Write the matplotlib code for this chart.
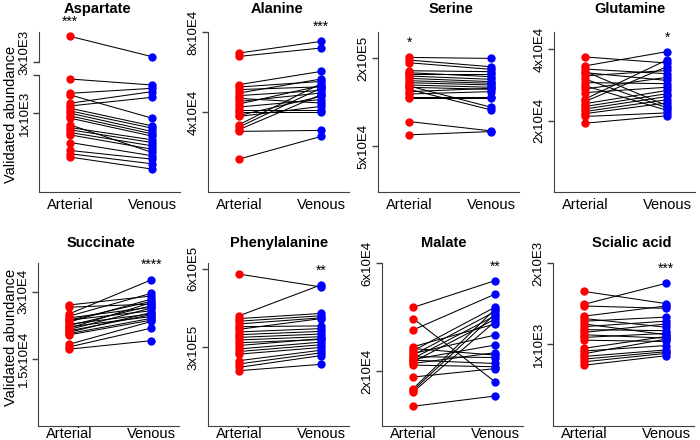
import matplotlib.pyplot as plt
from matplotlib.transforms import ScaledTranslation

plt.rcParams['font.family'] = ['Liberation Sans', 'DejaVu Sans']

groups = ['Arterial', 'Venous']
titles = ['Aspartate', 'Alanine', 'Serine', 'Glutamine',
          'Succinate', 'Phenylalanine', 'Malate', 'Scialic acid']
stars = ['***', '***', '*', '*', '****', '**', '**', '***']
star_side = [0, 1, 0, 1, 1, 1, 1, 1]

# paired values, same index = same subject
aspartate_art = [3329, 1434, 1253, 1232, 1127, 1092, 1063, 1029, 1000, 966,
                 937, 852, 818, 789, 755, 725, 628, 527, 485, 443]
aspartate_ven = [3071, 1358, 1316, 937, 1274, 1202, 839, 810, 768, 738,
                 709, 502, 662, 628, 586, 543, 460, 417, 358, 291]

alanine_art = [69500, 67800, 53700, 52500, 51200, 49500, 48200, 46800, 45300, 44000,
               42500, 41200, 39800, 38300, 37800, 33700, 32500, 31200, 30300, 16500]
alanine_ven = [75300, 72000, 60300, 55300, 52600, 56500, 50800, 44500, 49500, 53200,
               46200, 41200, 39800, 47800, 42800, 54200, 52000, 48700, 30800, 27800]

serine_art = [201700, 197200, 192600, 179000, 175600, 173400, 170000, 166000, 162000, 158600,
              154700, 153000, 150800, 147300, 143400, 139400, 134900, 132000, 92400, 69800]
serine_ven = [200000, 185800, 181300, 177400, 168900, 173400, 164400, 160400, 157600, 154700,
              150800, 116800, 147300, 112200, 149000, 143400, 134900, 132000, 76500, 75400]

glutamine_art = [37900, 35400, 34500, 33800, 33500, 32600, 31700, 30700, 29800, 28900,
                 27900, 26100, 25400, 24800, 24000, 23300, 22600, 22000, 21200, 19300]
glutamine_ven = [36200, 39400, 33200, 24200, 31300, 34100, 23600, 30400, 22900, 32200,
                 29400, 37100, 35200, 28500, 27600, 26800, 25900, 25000, 22200, 21400]

succinate_art = [27000, 26500, 25000, 24500, 24100, 23600, 23600, 23200, 22700, 22400,
                 22100, 21800, 21500, 21200, 20900, 20600, 20300, 18200, 17600, 17100]
succinate_ven = [29000, 27200, 32600, 29600, 26500, 27800, 25700, 28300, 25000, 26800,
                 24400, 27500, 26300, 24800, 25300, 24000, 23600, 23300, 21800, 19000]

phenylalanine_art = [579000, 419700, 409000, 399000, 388600, 378000, 368000, 358000, 347500, 337000,
                     327000, 316600, 306000, 293000, 283000, 273000, 248000, 235500, 222600, 209800]
phenylalanine_ven = [530000, 538000, 428600, 419700, 411800, 381000, 409000, 370700, 360000, 350000,
                     339800, 329000, 332000, 319000, 309000, 298600, 288000, 278000, 267600, 234000]

malate_art = [43600, 39500, 35300, 29100, 28400, 27600, 26600, 26000, 25400, 24800,
              24400, 24100, 23500, 22900, 22300, 17900, 13600, 13000, 12400, 7100]
malate_ven = [53500, 16100, 48500, 37500, 26000, 43700, 33400, 42100, 25100, 40500,
              29700, 22900, 39300, 26900, 21700, 21000, 43000, 41200, 38400, 10900]

scialic_art = [1650, 1492, 1471, 1346, 1317, 1284, 1250, 1217, 1180, 1146,
               1117, 1084, 1050, 950, 917, 884, 850, 817, 784, 742]
scialic_ven = [1500, 1750, 1442, 1471, 1209, 1334, 1117, 1284, 1167, 1250,
               1075, 1134, 1034, 1096, 984, 1063, 930, 909, 888, 859]

arterial = [aspartate_art, alanine_art, serine_art, glutamine_art,
            succinate_art, phenylalanine_art, malate_art, scialic_art]
venous = [aspartate_ven, alanine_ven, serine_ven, glutamine_ven,
          succinate_ven, phenylalanine_ven, malate_ven, scialic_ven]

yticks = [[1000], [40000, 80000], [50000, 200000], [20000, 40000],
          [15000, 30000], [300000, 600000], [20000, 60000], [1000, 2000]]
ytick_labels = [['1x10E3'], ['4x10E4', '8x10E4'], ['5x10E4', '2x10E5'], ['2x10E4', '4x10E4'],
                ['1.5x10E4', '3x10E4'], ['3x10E5', '6x10E5'], ['2x10E4', '6x10E4'], ['1x10E3', '2x10E3']]
ylims = [(0, 1485), (0, 80000), (-27600, 245000), (0, 44900),
         (0, 36400), (0, 621600), (0, 60000), (0, 2000)]

# aspartate break (upper segment)
asp_upper_lim = (3000, 3384)

W, H = 700, 440
fig = plt.figure(figsize=(7, 4.4), dpi=100)


def rect(left, top, right, bottom):
    return [left / W, 1 - bottom / H, (right - left) / W, (bottom - top) / H]


lefts = [39, 208, 378, 554, 38, 208, 382, 553]
title_x = [97, 277, 451, 630, 101, 279, 444, 632]   # title centres, px
spine_c = '#404040'


def style(ax, xpad, xlabels=True):
    ax.spines['top'].set_visible(False)
    ax.spines['right'].set_visible(False)
    ax.spines['left'].set_color(spine_c)
    ax.spines['bottom'].set_color(spine_c)
    ax.set_xlim(-0.38, 1.34)
    ax.tick_params(axis='y', length=4, width=1, color=spine_c, labelsize=9.5, pad=2)
    ax.tick_params(axis='x', length=0, labelsize=10.5, pad=xpad)
    if xlabels:
        ax.set_xticks([0, 1])
        ax.set_xticklabels(groups)
    else:
        ax.set_xticks([])


def draw(ax, art, ven):
    for a, v in zip(art, ven):
        ax.plot([0, 1], [a, v], color='black', lw=0.75, zorder=1)
    ax.plot([0] * len(art), art, 'o', color='#ff0000', ms=6, mec='none', zorder=2, clip_on=False)
    ax.plot([1] * len(ven), ven, 'o', color='#0000ff', ms=6, mec='none', zorder=2, clip_on=False)


star_dy = [10, 5, -11, -6, -2, -8, -4, -6]

for i in range(8):
    row = i // 4
    left = lefts[i]
    if row == 0:
        top, bottom = 32, 192
        xpad = 4
    else:
        top, bottom = 263, 425.5
        xpad = 1

    if i == 0:
        # broken axis: lower and upper segment
        ax = fig.add_axes(rect(left, 75, left + 141, bottom))
        upper = fig.add_axes(rect(left, top, left + 141, 62.3))
        style(ax, xpad)
        style(upper, xpad, xlabels=False)
        upper.spines['bottom'].set_visible(False)
        art, ven = arterial[i], venous[i]
        lo_a = [a for a, v in zip(art, ven) if a < 3000]
        lo_v = [v for a, v in zip(art, ven) if a < 3000]
        hi_a = [a for a, v in zip(art, ven) if a >= 3000]
        hi_v = [v for a, v in zip(art, ven) if a >= 3000]
        draw(ax, lo_a, lo_v)
        draw(upper, hi_a, hi_v)
        ax.set_ylim(*ylims[i])
        ax.set_yticks(yticks[i] + [ylims[i][1]])
        ax.set_yticklabels(ytick_labels[i] + [''], rotation=90, va='center')
        upper.set_ylim(*asp_upper_lim)
        upper.set_yticks([3000])
        upper.set_yticklabels(['3x10E3'], rotation=90, va='center')
        for lab in upper.get_yticklabels():
            lab.set_transform(lab.get_transform() + ScaledTranslation(0, 10 / 100, fig.dpi_scale_trans))
        title_ax = upper
        ax.set_ylabel('Validated abundance', fontsize=10.5)
        ax.yaxis.set_label_coords(-0.15, 0.66)
    else:
        ax = fig.add_axes(rect(left, top, left + 141, bottom))
        style(ax, xpad)
        draw(ax, arterial[i], venous[i])
        ax.set_ylim(*ylims[i])
        ax.set_yticks(yticks[i])
        ax.set_yticklabels(ytick_labels[i], rotation=90, va='center')
        title_ax = ax
        if i == 4:
            ax.set_ylabel('Validated abundance', fontsize=10.5)
            ax.yaxis.set_label_coords(-0.142, 0.545)

    pad = 14 if row == 0 else 11.5
    title_ax.set_title(titles[i], fontsize=10.5, fontweight='bold', pad=pad,
                       x=(title_x[i] - left) / 141)
    title_ax.annotate(stars[i], xy=(star_side[i], 1), xycoords=('data', 'axes fraction'),
                      xytext=(0, star_dy[i] * 0.72), textcoords='offset points',
                      ha='center', va='center', fontsize=10)

fig.savefig('out.png', dpi=100)
